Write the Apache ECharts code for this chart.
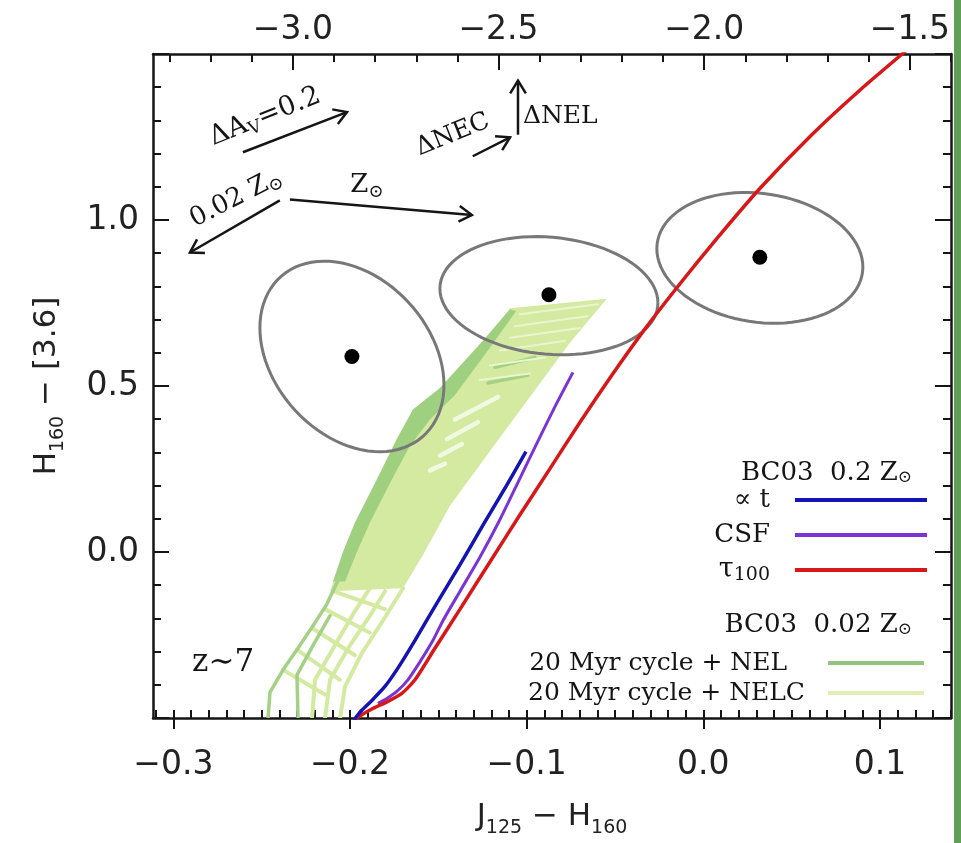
<!DOCTYPE html>
<html>
<head>
<meta charset="utf-8">
<script src="https://cdn.jsdelivr.net/npm/echarts@6/dist/echarts.min.js"></script>
<style>
  html, body { margin: 0; background: #fff; }
  #chart { width: 961px; height: 843px; }
</style>
</head>
<body>
<div id="chart"></div>
<script>
// tick labels
const xTicks = [-0.3, -0.2, -0.1, 0.0, 0.1];
const topTicks = [-3.0, -2.5, -2.0, -1.5];

// model tracks, [J125-H160, H160-[3.6]]
const ageLine = [[-0.1004, 0.302], [-0.1123, 0.192], [-0.1248, 0.080], [-0.1377, -0.038], [-0.1508, -0.154],
  [-0.1632, -0.266], [-0.1728, -0.349], [-0.1802, -0.405], [-0.1876, -0.447], [-0.1932, -0.476], [-0.1978, -0.506]];
const csfLine = [[-0.0738, 0.541], [-0.0834, 0.444], [-0.0925, 0.346], [-0.1038, 0.222], [-0.1151, 0.098],
  [-0.1264, -0.015], [-0.1377, -0.118], [-0.1474, -0.207], [-0.1530, -0.266], [-0.1604, -0.331],
  [-0.1672, -0.385], [-0.1735, -0.420], [-0.1791, -0.441], [-0.1842, -0.456]];
const tauLine = [[0.1146, 1.509], [0.0886, 1.391], [0.0614, 1.257], [0.0320, 1.095], [0.0081, 0.947],
  [-0.0132, 0.808], [-0.0330, 0.672], [-0.0517, 0.533], [-0.0698, 0.391], [-0.0868, 0.251], [-0.1038, 0.112],
  [-0.1208, -0.030], [-0.1377, -0.172], [-0.1519, -0.290], [-0.1632, -0.385], [-0.1706, -0.426],
  [-0.1785, -0.450], [-0.1876, -0.473], [-0.1944, -0.494], [-0.1972, -0.506]];

// stacked galaxies and their error ellipses [cx, cy, sigmaX, sigmaY, rho]
const galaxies = [[-0.1989, 0.589], [-0.0874, 0.775], [0.0320, 0.888]];
const errEllipses = [[-0.1989, 0.589, 0.0521, 0.287, -0.30], [-0.0874, 0.772, 0.0617, 0.178, -0.12],
  [0.0320, 0.886, 0.0583, 0.197, -0.14]];

// 20 Myr cycle tracks (BC03 0.02 Zsun)
const nelcFill = [[-0.1094, 0.734], [-0.0546, 0.763], [-0.0755, 0.630], [-0.1055, 0.414], [-0.1248, 0.275],
  [-0.1434, 0.139], [-0.1587, -0.009], [-0.1700, -0.109], [-0.2113, -0.118], [-0.2074, -0.059], [-0.2000, 0.038],
  [-0.1904, 0.139], [-0.1757, 0.296], [-0.1661, 0.405], [-0.1530, 0.464], [-0.1248, 0.630]];
const nelFill = [[-0.1094, 0.731], [-0.1248, 0.636], [-0.1491, 0.494], [-0.1644, 0.429], [-0.1735, 0.340],
  [-0.1859, 0.207], [-0.1972, 0.089], [-0.2040, 0.000], [-0.2096, -0.089], [-0.2028, -0.089], [-0.1961, 0.000],
  [-0.1887, 0.089], [-0.1774, 0.207], [-0.1661, 0.320], [-0.1547, 0.399], [-0.1406, 0.473], [-0.1208, 0.615],
  [-0.1060, 0.725]];
const nelTracks = [
  [[-0.2464, -0.503], [-0.2453, -0.423], [-0.2379, -0.355], [-0.2283, -0.281], [-0.2198, -0.213], [-0.2131, -0.157], [-0.2057, -0.074]],
  [[-0.2294, -0.503], [-0.2300, -0.370], [-0.2209, -0.281], [-0.2113, -0.192]],
  [[-0.1179, 0.556], [-0.0953, 0.586]],
  [[-0.1219, 0.509], [-0.0993, 0.533]]
];
const nelcTracks = [
  [[-0.2215, -0.503], [-0.2198, -0.385], [-0.2085, -0.281], [-0.1972, -0.178], [-0.1887, -0.109]],
  [[-0.2142, -0.503], [-0.2113, -0.385], [-0.2000, -0.281], [-0.1887, -0.192], [-0.1802, -0.118]],
  [[-0.2057, -0.503], [-0.2028, -0.405], [-0.1933, -0.305], [-0.1814, -0.207], [-0.1700, -0.109]],
  [[-0.2379, -0.355], [-0.2142, -0.429]],
  [[-0.2294, -0.296], [-0.2057, -0.385]],
  [[-0.2209, -0.231], [-0.1972, -0.311]],
  [[-0.2142, -0.172], [-0.1887, -0.243]],
  [[-0.2096, -0.118], [-0.1802, -0.172]]
];
const nelcGaps = [
  [[-0.1406, 0.399], [-0.1162, 0.467]],
  [[-0.1451, 0.340], [-0.1276, 0.391]],
  [[-0.1491, 0.290], [-0.1366, 0.325]],
  [[-0.1547, 0.246], [-0.1463, 0.266]]
];
const nelcStripes = [
  [[-0.1038, 0.716], [-0.0596, 0.746]],
  [[-0.1066, 0.680], [-0.0659, 0.710]],
  [[-0.1094, 0.645], [-0.0698, 0.675]],
  [[-0.1151, 0.607], [-0.0783, 0.636]],
  [[-0.1208, 0.562], [-0.0896, 0.586]],
  [[-0.1264, 0.518], [-0.0981, 0.538]]
];

// arrows [x1, y1, x2, y2]
const arrows = [[-0.2606, 1.204, -0.2017, 1.325], [-0.1305, 1.192, -0.1094, 1.249], [-0.1049, 1.257, -0.1049, 1.420],
  [-0.2397, 1.059, -0.2906, 0.902], [-0.2340, 1.062, -0.1310, 1.015]];
const notes = [
  { text: 'ΔA{s|V}=0.2', at: [-0.2481, 1.311], rot: 22, align: 'center', size: 27 },
  { text: 'ΔNEC', at: [-0.1418, 1.257], rot: 22, align: 'center', size: 25 },
  { text: 'ΔNEL', at: [-0.1021, 1.311], rot: 0, align: 'left', size: 25 },
  { text: '0.02 Z{s|⊙}', at: [-0.2646, 1.065], rot: 27, align: 'center', size: 26 },
  { text: 'Z{s|⊙}', at: [-0.1904, 1.104], rot: 0, align: 'center', size: 26 },
  { text: 'z∼7', at: [-0.2718, -0.334], rot: 0, align: 'center', size: 31 }
];

const minorBottom = [];
for (let i = -31; i <= 14; i++) minorBottom.push(i / 100);
const minorTop = [];
for (let i = -33; i <= -14; i++) minorTop.push(i / 10);

const serif = "'DejaVu Serif', 'Liberation Serif', serif";
const sans = "'DejaVu Sans', 'Liberation Sans', sans-serif";
const ink = '#151515';
const fmt = v => (v < 0 ? '−' : '') + Math.abs(v).toFixed(1);

const tickStyle = { color: ink, width: 2 };
const plotRect = { left: 153, right: 10, top: 54, bottom: 114 };
const xBase = { type: 'value', splitLine: { show: false } };

function pathSeries(name, paths, color, width) {
  return {
    type: 'custom', name: name, clip: true, silent: true,
    data: paths.map((p, i) => [i]),
    renderItem: (params, api) => ({
      type: 'polyline',
      shape: { points: paths[params.dataIndex].map(p => api.coord(p)) },
      style: { stroke: color, lineWidth: width, fill: null, lineJoin: 'round', lineCap: 'round' }
    })
  };
}
function fillSeries(name, poly, color) {
  return {
    type: 'custom', name: name, clip: true, silent: true,
    data: [[0]],
    itemStyle: { color: color },
    renderItem: (params, api) => ({
      type: 'polygon',
      shape: { points: poly.map(p => api.coord(p)) },
      style: { fill: color }
    })
  };
}
function modelLine(name, data, color, width) {
  return {
    type: 'line', name: name, data: data, showSymbol: false, smooth: 0.2, silent: true,
    itemStyle: { color: color }, lineStyle: { color: color, width: width }
  };
}

const chart = echarts.init(document.getElementById('chart'));
chart.setOption({
  animation: false,
  backgroundColor: '#fff',
  grid: [
    Object.assign({}, plotRect),
    Object.assign({}, plotRect),
    // thin strip under the plot: its top axis carries the long bottom ticks
    { left: 153, right: 10, top: 729, height: 20 }
  ],
  xAxis: [
    Object.assign({}, xBase, {
      gridIndex: 0, position: 'bottom', min: -0.3115, max: 0.1402,
      axisLine: { show: true, onZero: false, lineStyle: { color: ink, width: 2.5 } },
      axisTick: { show: true, inside: true, length: 8, customValues: minorBottom, lineStyle: tickStyle },
      axisLabel: { customValues: xTicks, formatter: fmt, margin: 31, fontFamily: sans, fontSize: 33, color: '#222' },
      name: '{m|J}{s|125}{m| − H}{s|160}', nameLocation: 'middle', nameGap: 78,
      nameTextStyle: {
        color: '#222', fontFamily: sans,
        rich: {
          m: { fontFamily: sans, fontSize: 31, lineHeight: 42, color: '#222' },
          s: { fontFamily: sans, fontSize: 19, lineHeight: 19, verticalAlign: 'bottom', color: '#222' }
        }
      }
    }),
    Object.assign({}, xBase, {
      gridIndex: 0, position: 'top', min: -3.34, max: -1.40,
      axisLine: { show: true, onZero: false, lineStyle: { color: ink, width: 2.5 } },
      axisTick: { show: true, inside: true, length: 16, customValues: topTicks, lineStyle: tickStyle },
      axisLabel: { customValues: topTicks, formatter: fmt, margin: 7, fontFamily: sans, fontSize: 33, color: '#222' }
    }),
    Object.assign({}, xBase, {
      gridIndex: 1, position: 'top', min: -3.34, max: -1.40,
      axisLine: { show: false, onZero: false },
      axisTick: { show: true, inside: true, length: 8, customValues: minorTop, lineStyle: tickStyle },
      axisLabel: { show: false }
    }),
    Object.assign({}, xBase, {
      gridIndex: 2, position: 'top', min: -0.3115, max: 0.1402,
      axisLine: { show: false, onZero: false },
      axisTick: { show: true, inside: false, length: 16, customValues: xTicks, lineStyle: tickStyle },
      axisLabel: { show: false }
    }),
    Object.assign({}, xBase, {
      gridIndex: 1, position: 'bottom', min: -0.3115, max: 0.1402,
      axisLine: { show: false, onZero: false },
      axisTick: { show: true, inside: true, length: 16, customValues: xTicks, lineStyle: tickStyle },
      axisLabel: { show: false }
    })
  ],
  yAxis: [
    {
      type: 'value', gridIndex: 0, position: 'left', min: -0.5, max: 1.5, interval: 0.5,
      splitLine: { show: false },
      axisLine: { show: true, onZero: false, lineStyle: { color: ink, width: 2.5 } },
      axisTick: { show: true, inside: true, length: 16, lineStyle: tickStyle },
      minorTick: { show: true, splitNumber: 5, length: 8, lineStyle: tickStyle },
      axisLabel: { showMinLabel: false, showMaxLabel: false, formatter: fmt, margin: 14, fontFamily: sans, fontSize: 33, color: '#222' },
      name: '{m|H}{s|160}{m| − [3.6]}', nameLocation: 'middle', nameGap: 85, nameRotate: 90,
      nameTextStyle: {
        color: '#222', fontFamily: sans,
        rich: {
          m: { fontFamily: sans, fontSize: 31, lineHeight: 42, color: '#222' },
          s: { fontFamily: sans, fontSize: 19, lineHeight: 19, verticalAlign: 'bottom', color: '#222' }
        }
      }
    },
    {
      type: 'value', gridIndex: 0, position: 'right', min: -0.5, max: 1.5, interval: 0.5,
      splitLine: { show: false },
      axisLine: { show: true, onZero: false, lineStyle: { color: ink, width: 2.5 } },
      axisTick: { show: true, inside: true, length: 16, lineStyle: tickStyle },
      minorTick: { show: true, splitNumber: 5, length: 8, lineStyle: tickStyle },
      axisLabel: { show: false }
    },
    { type: 'value', gridIndex: 1, min: -0.5, max: 1.5, show: false },
    { type: 'value', gridIndex: 2, min: 0, max: 1, show: false }
  ],
  legend: [
    {
      orient: 'vertical', right: 34, top: 485, padding: 0, align: 'right', icon: 'rect',
      itemWidth: 132, itemHeight: 4, itemGap: 5, selectedMode: false,
      formatter: n => n === 'τ100' ? '{t|τ}{s|100}' : n,
      textStyle: {
        fontFamily: serif, fontSize: 26, lineHeight: 30, color: ink, padding: [0, 20, 0, 0],
        rich: {
          t: { fontFamily: serif, fontSize: 27, lineHeight: 30, color: ink },
          s: { fontFamily: serif, fontSize: 19, lineHeight: 19, verticalAlign: 'bottom', color: ink }
        }
      },
      data: [
        { name: '∝ t', itemStyle: { color: '#1414b4' } },
        { name: 'CSF', itemStyle: { color: '#7a34d6' } },
        { name: 'τ100', itemStyle: { color: '#d81818' } }
      ]
    },
    {
      orient: 'vertical', right: 37, top: 650, padding: 0, align: 'right', icon: 'rect',
      itemWidth: 96, itemHeight: 4, itemGap: 4, selectedMode: false,
      textStyle: { fontFamily: serif, fontSize: 25, lineHeight: 26, color: ink },
      data: [
        { name: '20 Myr cycle + NEL', itemStyle: { color: '#93c47d' }, textStyle: { padding: [0, 36, 0, 0] } },
        { name: '20 Myr cycle + NELC', itemStyle: { color: '#e0edb4' }, textStyle: { padding: [0, 18, 0, 0] } }
      ]
    }
  ],
  graphic: [
    {
      type: 'text', x: 912, y: 473,
      style: {
        text: 'BC03  0.2 Z{s|⊙}', align: 'right', verticalAlign: 'middle', fill: ink,
        font: "26px 'DejaVu Serif'",
        rich: { s: { fontSize: 17, lineHeight: 17, verticalAlign: 'bottom', fill: ink, fontFamily: 'DejaVu Serif' } }
      }
    },
    {
      type: 'text', x: 912, y: 625,
      style: {
        text: 'BC03  0.02 Z{s|⊙}', align: 'right', verticalAlign: 'middle', fill: ink,
        font: "26px 'DejaVu Serif'",
        rich: { s: { fontSize: 17, lineHeight: 17, verticalAlign: 'bottom', fill: ink, fontFamily: 'DejaVu Serif' } }
      }
    },
    { type: 'rect', x: 954, y: 0, shape: { width: 7, height: 843 }, style: { fill: '#5f9f56' } }
  ],
  series: [
    fillSeries('20 Myr cycle + NELC', nelcFill, '#d4eaa0'),
    pathSeries('', nelcTracks, '#d4eaa0', 4),
    fillSeries('20 Myr cycle + NEL', nelFill, '#9fd07f'),
    pathSeries('', nelTracks, '#a4d186', 3.5),
    pathSeries('', nelcGaps, '#f1f9e2', 4.5),
    pathSeries('', nelcStripes, '#e9f5cf', 2),
    {
      type: 'custom', clip: true, silent: true,
      data: errEllipses,
      encode: { x: 0, y: 1 },
      renderItem: (params, api) => {
        const [cx, cy, sx, sy, rho] = errEllipses[params.dataIndex];
        const pts = [];
        for (let k = 0; k <= 90; k++) {
          const t = k / 90 * Math.PI * 2;
          pts.push(api.coord([cx + sx * Math.cos(t), cy + sy * (rho * Math.cos(t) + Math.sqrt(1 - rho * rho) * Math.sin(t))]));
        }
        return { type: 'polyline', shape: { points: pts }, style: { stroke: '#787878', lineWidth: 3, fill: null } };
      }
    },
    modelLine('CSF', csfLine, '#7a34d6', 3),
    modelLine('τ100', tauLine, '#d81818', 3.5),
    modelLine('∝ t', ageLine, '#1414b4', 3.5),
    {
      type: 'scatter', data: galaxies, symbolSize: 15, silent: true,
      itemStyle: { color: '#000', opacity: 1 }
    },
    {
      type: 'custom', silent: true,
      data: arrows,
      encode: { x: [0, 2], y: [1, 3] },
      renderItem: (params, api) => {
        const a = api.coord([api.value(0), api.value(1)]);
        const b = api.coord([api.value(2), api.value(3)]);
        const ang = Math.atan2(b[1] - a[1], b[0] - a[0]);
        const L = 15, w = 0.55;
        const h1 = [b[0] - L * Math.cos(ang - w), b[1] - L * Math.sin(ang - w)];
        const h2 = [b[0] - L * Math.cos(ang + w), b[1] - L * Math.sin(ang + w)];
        return {
          type: 'group', children: [
            { type: 'line', shape: { x1: a[0], y1: a[1], x2: b[0], y2: b[1] }, style: { stroke: ink, lineWidth: 2.5 } },
            { type: 'polyline', shape: { points: [h1, b, h2] }, style: { stroke: ink, lineWidth: 2.5, fill: null } }
          ]
        };
      }
    },
    {
      type: 'custom', silent: true,
      data: notes.map(n => n.at),
      encode: { x: 0, y: 1 },
      renderItem: (params, api) => {
        const n = notes[params.dataIndex];
        const p = api.coord(n.at);
        return {
          type: 'text', x: p[0], y: p[1], rotation: n.rot * Math.PI / 180,
          style: {
            text: n.text, align: n.align, verticalAlign: 'middle', fill: ink,
            font: n.size + "px 'DejaVu Serif'", lineHeight: Math.round(n.size * 1.2),
            rich: { s: { fontSize: Math.round(n.size * 0.68), lineHeight: Math.round(n.size * 0.68), verticalAlign: 'bottom', fill: ink, fontFamily: 'DejaVu Serif' } }
          }
        };
      }
    }
  ]
});
</script>
</body>
</html>
